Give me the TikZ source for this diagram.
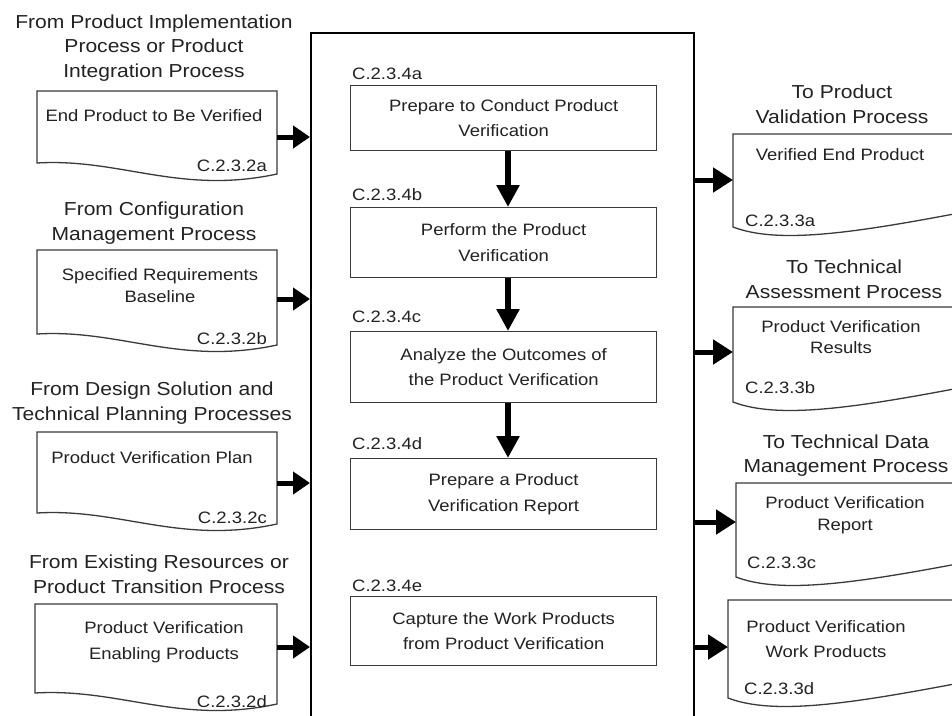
\documentclass[tikz,border=0pt]{standalone}
\usepackage{fontspec}
\setmainfont{Liberation Sans}[FakeStretch=1.12]
\usetikzlibrary{arrows.meta}
\definecolor{ink}{HTML}{222222}
\definecolor{edge}{HTML}{3A3A3A}
\tikzset{
 heading/.style={font=\fontsize{18.8}{24.5}\selectfont, text=ink, align=center, anchor=base, inner sep=0pt},
 doctext/.style={font=\fontsize{16.5}{22}\selectfont, text=ink, align=center, anchor=base, inner sep=0pt},
 codelabel/.style={font=\fontsize{16.5}{20}\selectfont, text=ink, inner sep=0pt},
 stepbox/.style={draw=edge, line width=1.3pt, minimum width=306pt, anchor=north west, font=\fontsize{16.5}{25.5}\selectfont, text=ink, align=center, inner sep=0pt},
 docline/.style={draw=edge, line width=1.3pt, fill=white},
 flowh/.style={line width=5pt, -{Triangle[length=17pt,width=22pt]}},
 flowr/.style={line width=5pt, -{Triangle[length=20pt,width=24pt]}},
 flowv/.style={line width=5.5pt, -{Triangle[length=22pt,width=22pt]}},
}
\newcommand\leftdoc[3]{%
 \draw[docline] (#1,#3) -- (#1,#2) -- (277,#2) -- (277,{#3+11}) .. controls (180,{#3+32}) and (120,{#3-5}) .. (#1,#3) -- cycle;}
\newcommand\rightdoc[3]{%
 \draw[docline] (#1,#3) -- (#1,#2) -- (990,#2) -- (990,{#3-18}) -- ({#1+242},{#3-17}) .. controls ({#1+127},{#3+5}) and ({#1+47},{#3+18}) .. (#1,#3) -- cycle;}
\begin{document}
\begin{tikzpicture}[x=1pt,y=-1pt]
\useasboundingbox[fill=white] (0,0) rectangle (952,715);
\clip (0,0) rectangle (952,715);

% main process box
\node[draw=black, line width=2.2pt, minimum width=383pt, minimum height=720pt, anchor=north west, inner sep=0pt] (main) at (310,32) {};

% left headings (anchor = baseline of last line)
\node[heading] (ha) at (154,77) {From Product Implementation\\Process or Product\\Integration Process};
\node[heading] (hb) at (154,240) {From Configuration\\Management Process};
\node[heading, font=\fontsize{18.8}{25}\selectfont] (hc) at (152,420) {From Design Solution and\\Technical Planning Processes};
\node[heading, font=\fontsize{18.8}{25}\selectfont] (hd) at (159,593) {From Existing Resources or\\Product Transition Process};

% left documents
\leftdoc{37}{91}{163}
\leftdoc{37}{250}{334}
\leftdoc{37}{432}{513}
\leftdoc{35}{604}{693}
\node[doctext] (ta) at (154,121) {End Product to Be Verified};
\node[doctext] (tb) at (160,302) {Specified Requirements\\Baseline};
\node[doctext] (tc) at (152,463) {Product Verification Plan};
\node[doctext] (td) at (164,659) {Product Verification\\[4pt]Enabling Products};
\node[codelabel, anchor=base east] (la) at (267,171) {C.2.3.2a};
\node[codelabel, anchor=base east] (lb) at (267,344) {C.2.3.2b};
\node[codelabel, anchor=base east] (lc) at (267,523) {C.2.3.2c};
\node[codelabel, anchor=base east] (ld) at (267,707) {C.2.3.2d};

% left arrows
\coordinate (ina) at (277,137);
\coordinate (inb) at (277,299);
\coordinate (inc) at (277,483);
\coordinate (ind) at (277,647);
\draw[flowh] (ina) -- (ina -| main.west);
\draw[flowh] (inb) -- (inb -| main.west);
\draw[flowh] (inc) -- (inc -| main.west);
\draw[flowh] (ind) -- (ind -| main.west);

% inner steps
\node[codelabel, anchor=base west] (ca) at (352,79) {C.2.3.4a};
\node[codelabel, anchor=base west] (cb) at (352,200) {C.2.3.4b};
\node[codelabel, anchor=base west] (cc) at (352,322) {C.2.3.4c};
\node[codelabel, anchor=base west] (cd) at (352,449) {C.2.3.4d};
\node[codelabel, anchor=base west] (ce) at (352,591) {C.2.3.4e};
\node[stepbox, minimum height=65pt] (pa) at (350,85) {Prepare to Conduct Product\\Verification};
\node[stepbox, minimum height=70pt] (pb) at (350,207) {Perform the Product\\Verification};
\node[stepbox, minimum height=71pt] (pc) at (350,331) {Analyze the Outcomes of\\the Product Verification};
\node[stepbox, minimum height=71pt] (pd) at (350,458) {Prepare a Product\\Verification Report};
\node[stepbox, minimum height=69pt] (pe) at (350,596) {Capture the Work Products\\from Product Verification};
\coordinate (vx) at (508,0);
\draw[flowv] (pa.south -| vx) -- (pb.north -| vx);
\draw[flowv] (pb.south -| vx) -- (pc.north -| vx);
\draw[flowv] (pc.south -| vx) -- (pd.north -| vx);

% right headings
\node[heading, font=\fontsize{18.8}{25}\selectfont] (rha) at (842,123) {To Product\\Validation Process};
\node[heading, font=\fontsize{18.8}{25}\selectfont] (rhb) at (844,298) {To Technical\\Assessment Process};
\node[heading, font=\fontsize{18.8}{24}\selectfont] (rhc) at (846,472) {To Technical Data\\Management Process};

% right documents
\rightdoc{733}{134}{227}
\rightdoc{733}{307}{402}
\rightdoc{736}{483}{577}
\rightdoc{728}{600}{698}
\node[doctext] (ra) at (840,160) {Verified End Product};
\node[doctext, font=\fontsize{16.5}{21}\selectfont] (rb) at (841,353) {Product Verification\\Results};
\node[doctext] (rc) at (845,530) {Product Verification\\Report};
\node[doctext] (rd) at (826,657) {Product Verification\\[3pt]Work Products};
\node[codelabel, anchor=base west] (lra) at (745,226) {C.2.3.3a};
\node[codelabel, anchor=base west] (lrb) at (745,393) {C.2.3.3b};
\node[codelabel, anchor=base west] (lrc) at (747,568) {C.2.3.3c};
\node[codelabel, anchor=base west] (lrd) at (744,694) {C.2.3.3d};

% right arrows
\coordinate (outa) at (733,180);
\coordinate (outb) at (733,352);
\coordinate (outc) at (736,522);
\coordinate (outd) at (728,647);
\draw[flowr] (outa -| main.east) -- (outa);
\draw[flowr] (outb -| main.east) -- (outb);
\draw[flowr] (outc -| main.east) -- (outc);
\draw[flowr] (outd -| main.east) -- (outd);
\end{tikzpicture}
\end{document}
